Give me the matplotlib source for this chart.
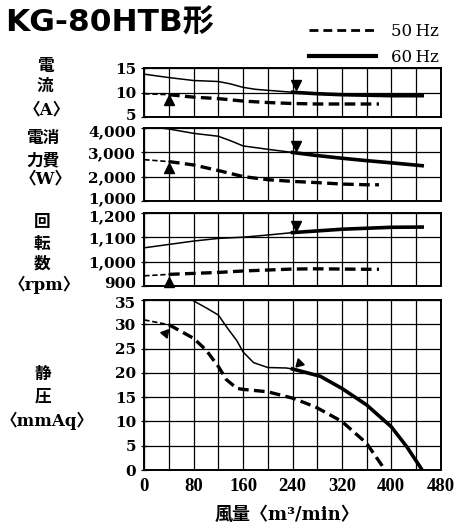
import numpy as np
import matplotlib
matplotlib.use("Agg")
import matplotlib.pyplot as plt
import matplotlib.transforms as mtrans
from matplotlib.lines import Line2D
from matplotlib.ticker import MultipleLocator, StrMethodFormatter

# air flow (m3/min) vs current / power / rpm / static pressure
cur60_x = [0, 40, 80, 120, 140, 160, 180, 200, 240, 280, 320, 360, 400, 450]
cur60_y = [13.8, 13.1, 12.5, 12.3, 11.8, 11.1, 10.7, 10.5, 10.1, 9.8, 9.6, 9.5, 9.4, 9.4]
cur50_x = [0, 40, 80, 120, 160, 200, 240, 280, 320, 360, 380]
cur50_y = [9.8, 9.6, 9.1, 8.8, 8.3, 8.0, 7.8, 7.7, 7.7, 7.7, 7.7]

pow60_x = [0, 40, 80, 120, 140, 160, 200, 240, 280, 320, 360, 400, 450]
pow60_y = [4100, 3970, 3790, 3670, 3480, 3270, 3130, 3000, 2870, 2760, 2660, 2570, 2450]
pow50_x = [0, 40, 80, 120, 160, 200, 240, 280, 320, 360, 380]
pow50_y = [2700, 2620, 2480, 2250, 2000, 1870, 1800, 1750, 1690, 1660, 1660]

rpm60_x = [0, 40, 80, 120, 160, 200, 240, 280, 320, 360, 400, 450]
rpm60_y = [1057, 1071, 1085, 1096, 1101, 1110, 1120, 1127, 1134, 1138, 1142, 1143]
rpm50_x = [0, 40, 80, 120, 160, 200, 240, 280, 320, 360, 380]
rpm50_y = [941, 947, 951, 955, 961, 965, 969, 970, 969, 968, 968]

pa60_x = [40, 80, 100, 120, 133, 150, 160, 177, 200, 230, 240, 285, 320, 360, 400, 425, 450]
pa60_y = [38.5, 34.8, 33.4, 31.9, 29.5, 26.6, 24.3, 22.1, 21.1, 21.0, 20.8, 19.3, 16.8, 13.4, 8.9, 4.8, 0]
pa50_x = [0, 40, 80, 100, 120, 133, 150, 160, 200, 240, 277, 320, 360, 390]
pa50_y = [30.9, 29.9, 27.1, 24.7, 21.3, 18.6, 16.8, 16.6, 16.1, 14.8, 13.0, 10.0, 5.5, 0]

# operating point markers (x, y) per panel
op50 = [(40, 8.5), (40, 2340), (40, 917), (33, 28.3)]
op60 = [(245, 11.5), (245, 3270), (245, 1147), (251, 22.0)]
split50 = 40
split60 = 240

yticks = [[5, 10, 15], [1000, 2000, 3000, 4000], [900, 1000, 1100, 1200], list(range(0, 36, 5))]
xticks = [0, 80, 160, 240, 320, 400, 480]

W, H = 459, 532
def fx(x):
    return x / W
def fy(y):
    return 1 - y / H

fig = plt.figure(figsize=(W / 100, H / 100), dpi=100)
serif_jp = ['DejaVu Serif', 'Noto Sans CJK JP']

# axes boxes in pixels: top, bottom
boxes = [(68.3, 117.2), (128.3, 200.7), (213.3, 285.7), (300, 470)]
left, right = 144.3, 440.7
axes = []
for i, (t, b) in enumerate(boxes):
    ax = fig.add_axes([fx(left), fy(b), (right - left) / W, (b - t) / H],
                      sharex=axes[0] if axes else None)
    axes.append(ax)

dash = (0, (3.2, 1.6))
data = [
    (cur50_x, cur50_y, cur60_x, cur60_y),
    (pow50_x, pow50_y, pow60_x, pow60_y),
    (rpm50_x, rpm50_y, rpm60_x, rpm60_y),
    (pa50_x, pa50_y, pa60_x, pa60_y),
]
markers50 = ['^', '^', '^', (3, 0, 80)]
markers60 = ['v', 'v', 'v', (3, 0, 135)]

for i, ax in enumerate(axes):
    x5, y5, x6, y6 = [np.array(a, dtype=float) for a in data[i]]
    # thin part before the operating point, thick after
    ax.plot(x5[x5 <= split50], y5[x5 <= split50], color='black', lw=1.2, ls=dash)
    ax.plot(x5[x5 >= split50], y5[x5 >= split50], color='black', lw=2.4, ls=dash)
    ax.plot(x6[x6 <= split60], y6[x6 <= split60], color='black', lw=1.1)
    ax.plot(x6[x6 >= split60], y6[x6 >= split60], color='black', lw=2.6)
    ax.plot(*op50[i], marker=markers50[i], color='black', ms=7, clip_on=False)
    ax.plot(*op60[i], marker=markers60[i], color='black', ms=7, clip_on=False)

    ax.set_ylim(yticks[i][0], yticks[i][-1])
    ax.set_yticks(yticks[i])
    ax.yaxis.set_major_formatter(StrMethodFormatter('{x:,.0f}'))
    ax.set_xlim(0, 480)
    ax.xaxis.set_major_locator(MultipleLocator(80))
    ax.xaxis.set_minor_locator(MultipleLocator(40))
    ax.grid(True, which='both', color='black', lw=0.9)
    ax.set_axisbelow(True)
    for s in ax.spines.values():
        s.set_linewidth(1.4)
    ax.tick_params(axis='y', direction='inout', length=4, width=0.9, pad=4,
                   labelsize=11)
    ax.tick_params(axis='x', which='both', length=0)
    if i < 3:
        ax.tick_params(axis='x', labelbottom=False)

axes[3].set_xticks(xticks)
axes[3].tick_params(axis='x', labelsize=13.5, pad=6)

fig.canvas.draw()
for i, ax in enumerate(axes):
    labs = ax.get_yticklabels()
    for lab in labs:
        lab.set_fontfamily('DejaVu Serif')
        lab.set_fontweight('bold')
    # keep stacked end labels of neighbouring panels apart
    if i < 3:
        labs[0].set_transform(labs[0].get_transform() +
                              mtrans.ScaledTranslation(0, 2 / 72, fig.dpi_scale_trans))
    if i > 0:
        labs[-1].set_transform(labs[-1].get_transform() +
                               mtrans.ScaledTranslation(0, -2 / 72, fig.dpi_scale_trans))
for lab in axes[3].get_xticklabels():
    lab.set_fontfamily('Liberation Serif')
    lab.set_fontweight('bold')

# panel labels (vertical Japanese)
labels = [
    ('電', 45, 66), ('流', 45, 86), ('〈A〉', 47, 110),
    ('電消', 43, 139), ('力費', 43, 161), ('〈W〉', 46, 179),
    ('回', 42, 223), ('転', 42, 244), ('数', 42, 264), ('〈rpm〉', 44, 285),
    ('静', 43, 374), ('圧', 43, 397), ('〈mmAq〉', 47, 421),
]
for txt, x, y in labels:
    fig.text(fx(x), fy(y), txt, ha='center', va='center', fontsize=12,
             fontweight='bold', family=serif_jp)

fig.text(fx(287), fy(515), '風量〈m³/min〉', ha='center', va='center',
         fontsize=13, fontweight='bold', family=serif_jp)

fig.text(fx(5), fy(23), 'KG-80HTB形', ha='left', va='center', fontsize=22.5,
         fontweight='bold', family=['DejaVu Sans', 'Noto Sans CJK JP'])

handles = [
    Line2D([], [], color='black', lw=2.0, ls=(0, (3.2, 1.8))),
    Line2D([], [], color='black', lw=3.0),
]
fig.legend(handles, ['50\u2009Hz', '60\u2009Hz'], loc='upper right',
           bbox_to_anchor=(fx(454), fy(8)), frameon=False, handlelength=4.0,
           handletextpad=0.9, labelspacing=0.55,
           prop={'family': 'DejaVu Serif', 'size': 12})

fig.savefig('out.png', dpi=100)
